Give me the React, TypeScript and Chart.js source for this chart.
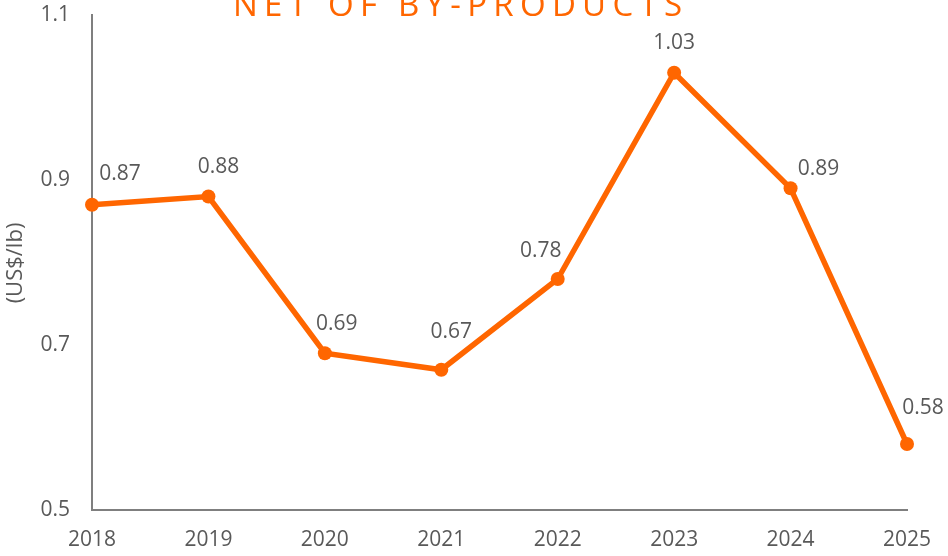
import React, { useEffect, useRef } from "react";
import { Chart, registerables } from "chart.js";

Chart.register(...registerables);

const years = ["2018", "2019", "2020", "2021", "2022", "2023", "2024", "2025"];
const costs = [0.87, 0.88, 0.69, 0.67, 0.78, 1.03, 0.89, 0.58];
const yTicks = [0.5, 0.7, 0.9, 1.1];
const titleText = "NET OF BY-PRODUCTS";
const yTitle = "(US$/lb)";

// label placement relative to each point (layout only)
const labelOffsets: [number, number][] = [
  [28, -32], [10, -31], [12, -31], [10, -39], [-17, -30], [0, -31], [28, -21], [16, -38],
];

const ORANGE = "#FF6600";
const GREY = "#595959";
const FONT = '"Open Sans", "DejaVu Sans", sans-serif';

const overlayPlugin = {
  id: "overlay",
  afterDatasetsDraw(chart: any) {
    const ctx = chart.ctx as CanvasRenderingContext2D;
    const meta = chart.getDatasetMeta(0);
    ctx.save();
    ctx.font = `21px ${FONT}`;
    ctx.fillStyle = GREY;
    ctx.textAlign = "center";
    ctx.textBaseline = "alphabetic";
    meta.data.forEach((pt: any, i: number) => {
      const [dx, dy] = labelOffsets[i] || [0, -30];
      ctx.fillText(costs[i].toFixed(2), pt.x + dx, pt.y + dy + 7.5);
    });
    ctx.restore();

    // title (cut at top like reference)
    ctx.save();
    ctx.font = `33px ${FONT}`;
    ctx.fillStyle = ORANGE;
    ctx.textAlign = "left";
    ctx.textBaseline = "alphabetic";
    const w0 = ctx.measureText(titleText).width;
    const targetW = 449;
    const sp = (targetW - w0) / (titleText.length - 1);
    (ctx as any).letterSpacing = `${sp}px`;
    ctx.fillText(titleText, 233, 16);
    ctx.restore();

    // y axis title
    ctx.save();
    ctx.font = `22px ${FONT}`;
    ctx.fillStyle = GREY;
    ctx.translate(16, 263);
    ctx.rotate(-Math.PI / 2);
    ctx.textAlign = "center";
    ctx.textBaseline = "middle";
    ctx.fillText(yTitle, 0, 0);
    ctx.restore();
  },
};

export default function App() {
  const ref = useRef<HTMLCanvasElement>(null);
  useEffect(() => {
    if (!ref.current) return;
    const chart = new Chart(ref.current, {
      type: "line",
      data: {
        labels: years,
        datasets: [
          {
            data: costs,
            borderColor: ORANGE,
            backgroundColor: ORANGE,
            borderWidth: 5.5,
            pointRadius: 7,
            pointBackgroundColor: ORANGE,
            pointBorderColor: ORANGE,
            pointBorderWidth: 0,
            tension: 0,
            clip: false as any,
          },
        ],
      },
      options: {
        responsive: false,
        animation: false,
        layout: { padding: { top: 15, right: 41, left: 0, bottom: 0 } },
        plugins: {
          legend: { display: false },
          tooltip: { enabled: false },
          title: { display: false },
        },
        scales: {
          x: {
            type: "category",
            offset: false,
            grid: { display: false, drawTicks: false },
            border: { display: true, color: "#7f7f7f", width: 2 },
            ticks: {
              color: GREY,
              font: { family: FONT, size: 21 },
              padding: 17,
              maxRotation: 0,
              autoSkip: false,
            },
            afterFit(scale: any) {
              scale.height = 46;
              scale.paddingLeft = 0;
              scale.paddingRight = 0;
            },
          },
          y: {
            min: 0.5,
            max: 1.1,
            grid: { display: false, drawTicks: false },
            border: { display: true, color: "#7f7f7f", width: 2 },
            ticks: {
              color: GREY,
              font: { family: FONT, size: 21 },
              padding: 22,
              callback: (v: any) => String(Math.round(Number(v) * 10) / 10),
            },
            afterBuildTicks(scale: any) {
              scale.ticks = yTicks.map((v) => ({ value: v }));
            },
            afterFit(scale: any) {
              scale.width = 92;
              scale.paddingTop = 0;
              scale.paddingBottom = 0;
            },
          },
        },
      },
      plugins: [overlayPlugin],
    });
    return () => chart.destroy();
  }, []);
  return (
    <div style={{ position: "absolute", left: 0, top: 0, width: 948, height: 556, background: "#fff" }}>
      <canvas ref={ref} width={948} height={556} style={{ display: "block" }} />
    </div>
  );
}
